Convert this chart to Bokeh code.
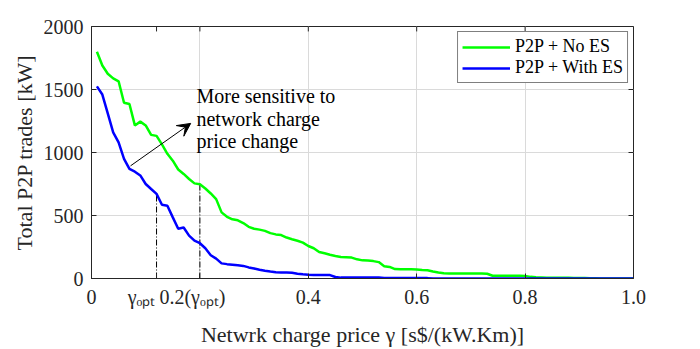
from bokeh.plotting import figure
from bokeh.models import (Range1d, FixedTicker, Label, Arrow, VeeHead,
                          Legend, LegendItem, CustomJSTickFormatter)
from bokeh.embed import file_html
from bokeh.resources import INLINE

# ---------------- data ----------------
gamma = [0.01, 0.02, 0.03, 0.04, 0.05, 0.06, 0.07, 0.08, 0.09, 0.10,
         0.11, 0.12, 0.13, 0.14, 0.15, 0.16, 0.17, 0.18, 0.19, 0.20,
         0.21, 0.22, 0.23, 0.24, 0.25, 0.26, 0.27, 0.28, 0.29, 0.30,
         0.31, 0.32, 0.33, 0.34, 0.35, 0.36, 0.37, 0.38, 0.39, 0.40,
         0.41, 0.42, 0.43, 0.44, 0.45, 0.46, 0.47, 0.48, 0.49, 0.50,
         0.51, 0.52, 0.53, 0.54, 0.55, 0.56, 0.57, 0.58, 0.59, 0.60,
         0.61, 0.62, 0.63, 0.64, 0.65, 0.66, 0.67, 0.68, 0.69, 0.70,
         0.71, 0.72, 0.73, 0.74, 0.75, 0.76, 0.77, 0.78, 0.79, 0.80,
         0.81, 0.82, 0.83, 0.84, 0.85, 0.86, 0.87, 0.88, 0.89, 0.90,
         0.91, 0.92, 0.93, 0.94, 0.95, 0.96, 0.97, 0.98, 0.99, 1.00]

p2p_no_es = [1800, 1690, 1625, 1588, 1565, 1395, 1385, 1215, 1245, 1215,
             1140, 1132, 1065, 990, 935, 865, 830, 790, 755, 748,
             714, 675, 630, 525, 490, 470, 462, 440, 410, 395,
             388, 378, 360, 350, 345, 325, 312, 300, 285, 258,
             240, 210, 200, 188, 178, 170, 168, 166, 152, 144,
             142, 138, 130, 98, 92, 75, 74, 73, 73, 72,
             68, 65, 55, 47, 42, 39, 39, 39, 39, 39,
             39, 39, 38, 22, 21, 21, 21, 21, 21, 20,
             13, 10, 8, 6, 6, 5, 5, 5, 4, 4,
             3, 2, 1, 0, 0, 0, 0, 0, 0, 0]

p2p_with_es = [1525, 1460, 1310, 1160, 1080, 950, 870, 848, 818, 750,
               710, 672, 585, 578, 485, 395, 405, 340, 300, 280,
               240, 185, 158, 120, 114, 110, 105, 100, 88, 80,
               70, 62, 55, 50, 48, 47, 45, 38, 33, 29,
               28, 28, 28, 27, 12, 7, 7, 7, 7, 7,
               7, 7, 7, 4, 3, 3, 3, 3, 3, 3,
               3, 3, 0, 0, 0, 0, 0, 0, 0, 0,
               0, 0, 0, 0, 0, 0, 0, 0, 0, 0,
               0, 0, 0, 0, 0, 0, 0, 0, 0, 0,
               0, 0, 0, 0, 0, 0, 0, 0, 0, 0]

series_names = ["P2P + No ES", "P2P + With ES"]

x_ticks = [0.0, 0.12, 0.2, 0.4, 0.6, 0.8, 1.0]
x_tick_labels = ["0", "\u03b3\u2092\u209a\u209c", "0.2(\u03b3\u2092\u209a\u209c)",
                 "0.4", "0.6", "0.8", "1.0"]
x_grid = [0.2, 0.4, 0.6, 0.8]
y_ticks = [0, 500, 1000, 1500, 2000]

gamma_opt = 0.12
gamma_mark = 0.2

x_title = "Netwrk charge price \u03b3 [s$/(kW.Km)]"
y_title = "Total P2P trades [kW]"
note_lines = ["More sensitive to", "network charge", "price change"]

# ---------------- layout / styling ----------------
SERIF = "Liberation Serif"
INK = "#262626"
W, H = 700, 349
BL, BR, BT, BB = 91, 67, 26, 68
X0, X1, Y0, Y1 = 0, 1, 0, 2000
TICK = 5

p = figure(width=W, height=H, output_backend="svg", toolbar_location=None,
           x_range=Range1d(X0, X1), y_range=Range1d(Y0, Y1),
           min_border_left=BL, min_border_right=BR, min_border_top=BT,
           min_border_bottom=BB)
p.background_fill_color = "white"
p.border_fill_color = "white"
p.outline_line_color = INK
p.outline_line_width = 1

for ax in (p.xaxis[0], p.yaxis[0]):
    ax.axis_line_color = INK
    ax.major_tick_line_color = INK
    ax.major_tick_in = TICK
    ax.major_tick_out = 0
    ax.minor_tick_line_color = None
    ax.major_label_text_font = SERIF
    ax.major_label_text_font_size = "20px"
    ax.major_label_text_color = INK
    ax.axis_label_text_font = SERIF
    ax.axis_label_text_font_size = "22px"
    ax.axis_label_text_font_style = "normal"
    ax.axis_label_text_color = INK

# x tick labels (pads shift the subscripted labels to sit like the original)
pads = ["", "\u2007\u2007\u2007", "\u2007\u2008", "", "", "", ""]
p.xaxis[0].ticker = FixedTicker(ticks=x_ticks)
p.xaxis[0].formatter = CustomJSTickFormatter(
    args=dict(tv=x_ticks, lab=x_tick_labels, pad=pads),
    code="""
    let b = 0;
    for (let i = 0; i < tv.length; i++) {
        if (Math.abs(tv[i] - tick) < Math.abs(tv[b] - tick)) { b = i; }
    }
    return lab[b] + pad[b];
""")
p.xaxis[0].major_label_standoff = 7
p.xaxis[0].axis_label = x_title
p.xaxis[0].axis_label_standoff = 11

p.yaxis[0].ticker = FixedTicker(ticks=y_ticks)
p.yaxis[0].major_label_standoff = 8
p.yaxis[0].axis_label = y_title
p.yaxis[0].axis_label_standoff = 4

# grid
p.xgrid.ticker = FixedTicker(ticks=x_grid)
p.ygrid.ticker = FixedTicker(ticks=y_ticks)
for g in (p.xgrid[0], p.ygrid[0]):
    g.grid_line_color = "#dadada"
    g.grid_line_width = 1

# mirrored inward ticks on the top and right edges of the box
frame_w = W - BL - BR
frame_h = H - BT - BB
dy = TICK * (Y1 - Y0) / frame_h
dx = TICK * (X1 - X0) / frame_w
p.segment(x0=x_ticks, y0=[Y1] * len(x_ticks), x1=x_ticks, y1=[Y1 - dy] * len(x_ticks),
          line_color=INK, line_width=1)
p.segment(x0=[X1] * len(y_ticks), y0=y_ticks, x1=[X1 - dx] * len(y_ticks), y1=y_ticks,
          line_color=INK, line_width=1)

# dash-dot guide lines at gamma_opt and 0.2
i_opt = gamma.index(gamma_opt)
i_mark = gamma.index(gamma_mark)
p.segment(x0=[gamma_opt, gamma_mark], y0=[0, 0],
          x1=[gamma_opt, gamma_mark], y1=[p2p_with_es[i_opt], p2p_no_es[i_mark]],
          line_color="black", line_width=1, line_dash="6 2 1 2")

# curves
r_green = p.line(gamma, p2p_no_es, line_color="#00ff00", line_width=2.5)
r_blue = p.line(gamma, p2p_with_es, line_color="#0000ff", line_width=2.5)

legend = Legend(items=[LegendItem(label=series_names[0], renderers=[r_green]),
                       LegendItem(label=series_names[1], renderers=[r_blue])],
                location="top_right", margin=5, padding=4, spacing=0,
                label_text_font=SERIF, label_text_font_size="18px",
                label_text_color="black", label_standoff=5,
                glyph_width=48, glyph_height=20, label_height=20,
                border_line_color="black", border_line_width=1,
                background_fill_color="white", background_fill_alpha=1)
p.add_layout(legend)

# arrow + note
arrow_start = (0.072, 894)
arrow_end = (0.183, 1231)
p.add_layout(Arrow(x_start=arrow_start[0], y_start=arrow_start[1],
                   x_end=arrow_end[0], y_end=arrow_end[1],
                   line_color="black", line_width=1,
                   end=VeeHead(size=13, fill_color="black", line_color="black")))

note_x = 0.1937
note_ys = [1445, 1268, 1093]
for txt, yy in zip(note_lines, note_ys):
    p.add_layout(Label(x=note_x, y=yy, text=txt, text_font=SERIF, text_font_size="20px",
                       text_color="black", text_baseline="alphabetic", text_align="left"))

open("out.html", "w").write(file_html(p, INLINE))
